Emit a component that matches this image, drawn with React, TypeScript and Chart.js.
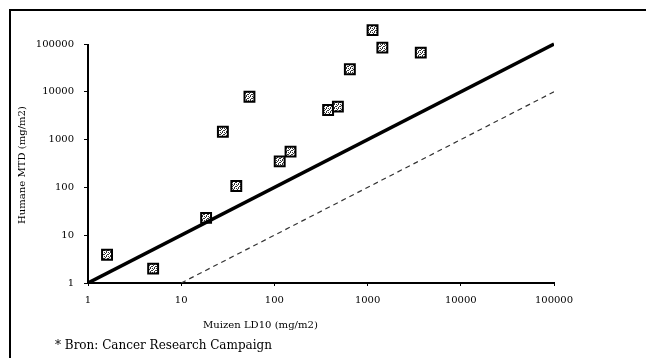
import React, { useEffect, useRef } from 'react';
import { Chart, registerables } from 'chart.js';

Chart.register(...registerables);

// Muizen LD10 (x) vs Humane MTD (y), mg/m2
const muizenLD10 = [1.6, 5.0, 18.5, 39, 28, 54, 114, 149, 377, 480, 645, 1130, 1440, 3720];
const humaneMTD = [3.9, 2.0, 23, 107, 1460, 7900, 350, 560, 4170, 4900, 29600, 195000, 84000, 66000];

// reference lines: y = x and y = x / 10
const equalLineX = [1, 100000];
const equalLineY = [1, 100000];
const tenthLineX = [10, 100000];
const tenthLineY = [1, 10000];

const tickValues = [1, 10, 100, 1000, 10000, 100000];
const xAxisTitle = 'Muizen LD10 (mg/m2)';
const yAxisTitle = 'Humane MTD (mg/m2)';
const footnote = '* Bron: Cancer Research Campaign';

const SERIF = '"DejaVu Serif", "Liberation Serif", serif';

function makePattern(ctx: CanvasRenderingContext2D): CanvasPattern | string {
  const pc = document.createElement('canvas');
  pc.width = 4;
  pc.height = 4;
  const p = pc.getContext('2d');
  if (!p) return '#999';
  p.fillStyle = '#ffffff';
  p.fillRect(0, 0, 4, 4);
  p.fillStyle = '#333333';
  p.fillRect(0, 0, 1, 1);
  p.fillRect(2, 0, 1, 1);
  p.fillRect(1, 1, 1, 1);
  p.fillRect(3, 2, 1, 1);
  p.fillRect(0, 2, 1, 1);
  p.fillRect(2, 3, 1, 1);
  return ctx.createPattern(pc, 'repeat') || '#999';
}

function fitFont(ctx: CanvasRenderingContext2D, text: string, width: number) {
  ctx.font = `10px ${SERIF}`;
  const w = ctx.measureText(text).width;
  const size = (10 * width) / w;
  ctx.font = `${size}px ${SERIF}`;
}

const decorPlugin = {
  id: 'decor',
  beforeDraw(chart: any) {
    const ctx = chart.ctx as CanvasRenderingContext2D;
    ctx.save();
    ctx.fillStyle = '#ffffff';
    ctx.fillRect(0, 0, chart.width, chart.height);
    ctx.strokeStyle = '#000';
    ctx.lineWidth = 2;
    ctx.beginPath();
    ctx.moveTo(10, chart.height);
    ctx.lineTo(10, 10);
    ctx.lineTo(chart.width, 10);
    ctx.stroke();
    // y axis line from value 1 up to 100000 only
    const ys = chart.scales.y;
    const xs = chart.scales.x;
    ctx.beginPath();
    ctx.moveTo(xs.left, ys.getPixelForValue(tickValues[0]));
    ctx.lineTo(xs.left, ys.getPixelForValue(tickValues[tickValues.length - 1]));
    ctx.stroke();
    ctx.restore();
  },
  afterDraw(chart: any) {
    const ctx = chart.ctx as CanvasRenderingContext2D;
    ctx.save();
    ctx.fillStyle = '#000';
    ctx.textBaseline = 'middle';
    ctx.textAlign = 'left';
    fitFont(ctx, xAxisTitle, 115);
    ctx.fillText(xAxisTitle, 203, 325);
    ctx.save();
    ctx.translate(22, 165);
    ctx.rotate(-Math.PI / 2);
    ctx.textAlign = 'center';
    fitFont(ctx, yAxisTitle, 118);
    ctx.fillText(yAxisTitle, 0, 0);
    ctx.restore();
    ctx.textAlign = 'left';
    fitFont(ctx, footnote, 217);
    ctx.fillText(footnote, 55, 346);
    ctx.restore();
  },
};

export default function App() {
  const ref = useRef<HTMLCanvasElement | null>(null);

  useEffect(() => {
    document.body.style.margin = '0';
    const canvas = ref.current;
    if (!canvas) return;
    const ctx = canvas.getContext('2d');
    if (!ctx) return;
    const pattern = makePattern(ctx);

    const axisCommon = (isX: boolean) => ({
      type: 'logarithmic' as const,
      min: 1,
      max: isX ? 100000 : 300000,
      afterBuildTicks: (scale: any) => {
        scale.ticks = tickValues.map((v) => ({ value: v }));
      },
      afterFit: (scale: any) => {
        if (isX) scale.height = 75;
        else scale.width = 88;
      },
      ticks: {
        autoSkip: false,
        maxRotation: 0,
        color: '#000',
        padding: isX ? 8 : 10,
        font: { family: SERIF, size: 10 },
        callback: (v: any) => String(v),
      },
      grid: {
        display: true,
        drawOnChartArea: false,
        drawTicks: true,
        tickLength: isX ? 3 : 4,
        color: '#000',
        lineWidth: 1,
      },
      border: { display: isX, color: '#000', width: 2 },
    });

    const chart = new Chart(ctx, {
      type: 'scatter',
      data: {
        datasets: [
          {
            type: 'line' as const,
            data: equalLineX.map((x, i) => ({ x, y: equalLineY[i] })),
            borderColor: '#000',
            borderWidth: 3.5,
            pointRadius: 0,
            fill: false,
          },
          {
            type: 'line' as const,
            data: tenthLineX.map((x, i) => ({ x, y: tenthLineY[i] })),
            borderColor: '#333',
            borderWidth: 1.2,
            borderDash: [5, 4],
            pointRadius: 0,
            fill: false,
          },
          {
            data: muizenLD10.map((x, i) => ({ x, y: humaneMTD[i] })),
            pointStyle: 'rect',
            pointRadius: 7,
            pointHoverRadius: 7,
            backgroundColor: pattern as any,
            borderColor: '#000',
            borderWidth: 2,
          },
        ],
      },
      options: {
        animation: false,
        responsive: false,
        maintainAspectRatio: false,
        layout: { padding: { left: 0, top: 21.2, right: 92, bottom: 0 } },
        plugins: {
          legend: { display: false },
          tooltip: { enabled: false },
        },
        scales: {
          x: { ...axisCommon(true), position: 'bottom' },
          y: { ...axisCommon(false), position: 'left' },
        },
      },
      plugins: [decorPlugin],
    });
    return () => chart.destroy();
  }, []);

  return <canvas ref={ref} width={646} height={358} style={{ display: 'block' }} />;
}
